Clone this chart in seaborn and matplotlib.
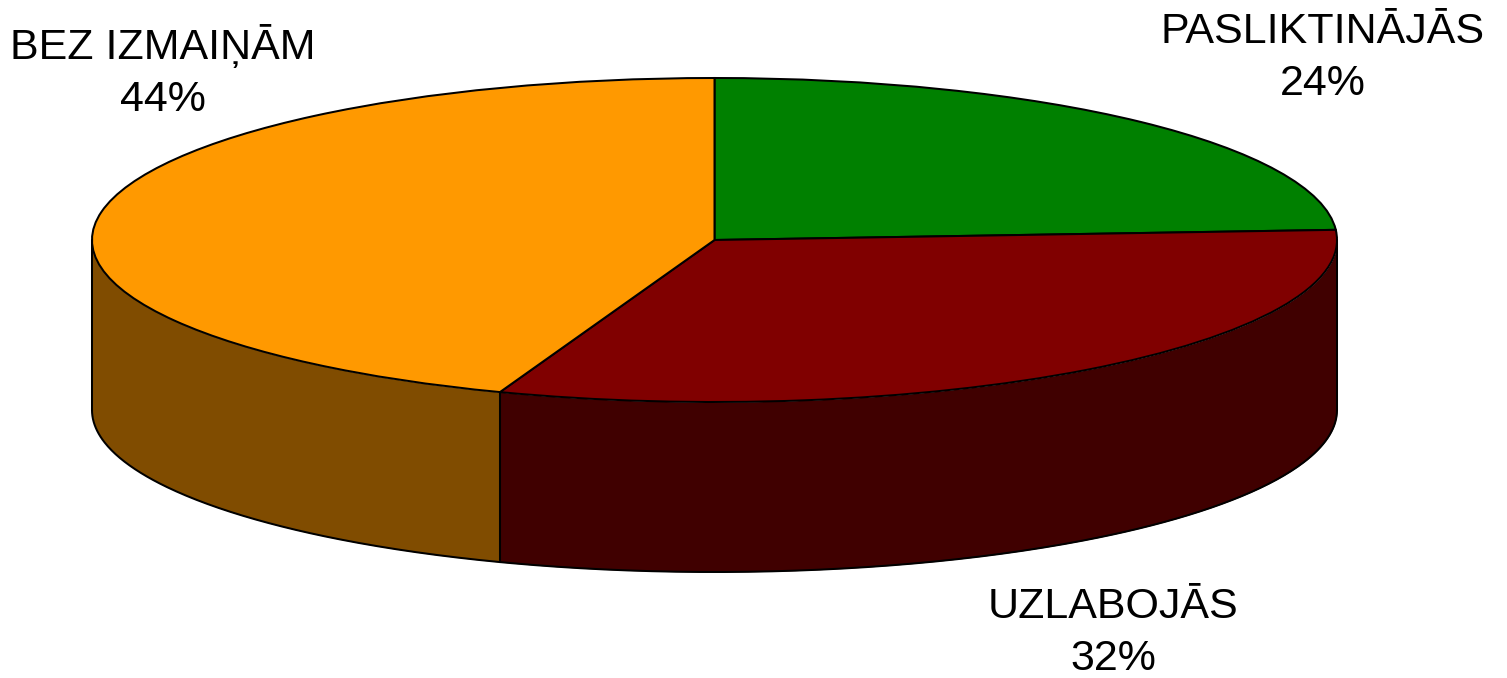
"""
plot.py
-------
Extruded pie chart: the top face comes from ax.pie, squashed by the axes
scale, the side wall is filled below the front half of the rim.
"""

import matplotlib
matplotlib.use("Agg")
import matplotlib.pyplot as plt
import numpy as np
import seaborn as sns

categories = ["PASLIKTINĀJĀS", "UZLABOJĀS", "BEZ IZMAIŅĀM"]
shares = [24.0, 31.6, 44.4]
top_colors = ["#008000", "#800000", "#FF9900"]
side_colors = ["#004000", "#400000", "#804C00"]

# pixel layout of the reference
WIDTH, HEIGHT = 1507, 678
CENTER_X, CENTER_Y = 714.5, 240
RADIUS_X, RADIUS_Y = 622.5, 162
DEPTH = 170 / RADIUS_Y
EDGE = 1.45


def draw_side_wall(ax, values, colors):
    """Fill the wall under each wedge, only where the rim faces the viewer."""
    edges = 90 - np.cumsum([0] + list(values)) * 3.6
    for start, stop, color in zip(edges[:-1], edges[1:], colors):
        # front half of the rim is -180..0 degrees, wedges run clockwise
        # so a wedge may also reach it from below -180
        hi, lo = min(start, 0), max(stop, -180)
        if hi <= lo:
            continue
        theta = np.radians(np.linspace(hi, lo, 200))
        x, y = np.cos(theta), np.sin(theta)
        ax.fill_between(x, y, y - DEPTH, color=color, linewidth=0, zorder=0)
        ax.plot(x, y - DEPTH, color="black", lw=EDGE, zorder=0.5)
        for end in (hi, lo):
            t = np.radians(end)
            ax.plot([np.cos(t)] * 2, [np.sin(t), np.sin(t) - DEPTH],
                    color="black", lw=EDGE, zorder=0.5)


def main():
    sns.set_theme(style="white")
    plt.rcParams["font.family"] = ["Liberation Sans", "DejaVu Sans"]

    fig = plt.figure(figsize=(WIDTH / 100, HEIGHT / 100), dpi=100)
    ax = fig.add_axes([0, 0, 1, 1])

    draw_side_wall(ax, shares, side_colors)
    ax.pie(shares, colors=sns.color_palette(top_colors), startangle=90,
           counterclock=False, wedgeprops={"edgecolor": "black", "linewidth": EDGE})

    ax.set_aspect("auto")
    ax.set_xlim(-CENTER_X / RADIUS_X, (WIDTH - CENTER_X) / RADIUS_X)
    ax.set_ylim(-(HEIGHT - CENTER_Y) / RADIUS_Y, CENTER_Y / RADIUS_Y)
    ax.axis("off")

    label_pos = [(1323, 58), (1113, 633), (163, 72)]
    for name, value, (px, py) in zip(categories, shares, label_pos):
        ax.text((px - CENTER_X) / RADIUS_X, (CENTER_Y - py) / RADIUS_Y,
                f"{name}\n{value:.0f}%", ha="center", va="center",
                fontsize=31, color="black", linespacing=1.4)

    fig.savefig("out.png", dpi=100, facecolor="white")
    plt.close(fig)


if __name__ == "__main__":
    main()
